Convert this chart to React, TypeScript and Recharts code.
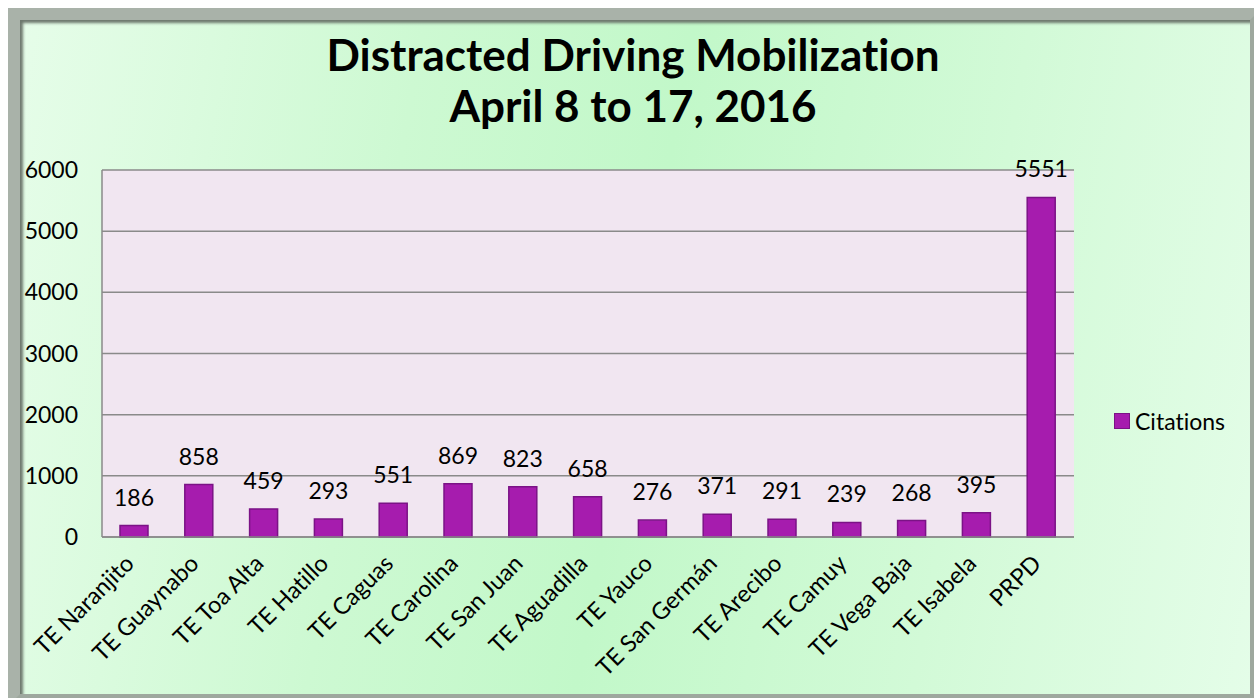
import { BarChart, Bar, XAxis, YAxis, CartesianGrid, LabelList } from "recharts";

const categories = [
  "TE Naranjito",
  "TE Guaynabo",
  "TE Toa Alta",
  "TE Hatillo",
  "TE Caguas",
  "TE Carolina",
  "TE San Juan",
  "TE Aguadilla",
  "TE Yauco",
  "TE San Germán",
  "TE Arecibo",
  "TE Camuy",
  "TE Vega Baja",
  "TE Isabela",
  "PRPD",
];
const citations = [186, 858, 459, 293, 551, 869, 823, 658, 276, 371, 291, 239, 268, 395, 5551];
const yTicks = [0, 1000, 2000, 3000, 4000, 5000, 6000];

const data = categories.map((name, i) => ({ name, Citations: citations[i] }));

const FONT = "Lato, 'Open Sans', sans-serif";

function XTick({ x, y, payload }: any) {
  return (
    <g transform={`translate(${x + 1},${y + 28})`}>
      <text
        x={0}
        y={0}
        textAnchor="end"
        transform="rotate(-45)"
        fontSize={23.5}
        fill="#000"
        fontFamily={FONT}
        style={{ fontVariantLigatures: "none" }}
      >
        {payload.value}
      </text>
    </g>
  );
}

export default function App() {
  return (
    <div style={{ position: "absolute", left: 0, top: 0, width: 1254, height: 698, overflow: "hidden", background: "#fff" }}>
      <div
        style={{
          position: "absolute",
          left: 8,
          top: 8,
          width: 1254,
          height: 698,
          boxSizing: "border-box",
          border: "12px solid #9ea89e",
          borderTopColor: "#a9b2a9",
          borderLeftColor: "#a9b2a9",
          boxShadow: "inset 3px 3px 3px #6d786d",
          background: "linear-gradient(100deg, #e6fde9 0%, #cdf9d2 30%, #c2f8c9 50%, #d2fad7 75%, #e4fde8 100%)",
        }}
      />
      <div
        style={{
          position: "absolute",
          left: 0,
          top: 29,
          width: 1266,
          textAlign: "center",
          fontFamily: FONT,
          fontWeight: 700,
          fontSize: 44,
          lineHeight: "51px",
          color: "#000",
          fontVariantLigatures: "none",
        }}
      >
        Distracted Driving Mobilization
        <br />
        April 8 to 17, 2016
      </div>
      <div style={{ position: "absolute", left: 0, top: 0 }}>
        <BarChart width={1254} height={698} data={data} margin={{ top: 170, right: 180, left: 0, bottom: 0 }}>
          <CartesianGrid vertical={false} stroke="#8a8a8a" strokeWidth={1.5} fill="#f1e6f1" fillOpacity={1} />
          <XAxis
            dataKey="name"
            height={161}
            interval={0}
            tick={<XTick />}
            tickLine={false}
            tickSize={0}
            tickMargin={0}
            axisLine={{ stroke: "#8a8a8a", strokeWidth: 1.5 }}
          />
          <YAxis
            width={102}
            domain={[0, 6000]}
            ticks={yTicks}
            tickLine={false}
            tickSize={0}
            tickMargin={24}
            axisLine={{ stroke: "#8a8a8a", strokeWidth: 1.5 }}
            tick={{ fontSize: 23, fill: "#000", fontFamily: FONT }}
          />
          <Bar dataKey="Citations" barSize={28} fill="#a61cae" stroke="#7b1386" strokeWidth={1.5} isAnimationActive={false}>
            <LabelList dataKey="Citations" position="top" offset={20} fontSize={23} fill="#000" fontFamily={FONT} />
          </Bar>
        </BarChart>
      </div>
      <div
        style={{
          position: "absolute",
          left: 1114,
          top: 407,
          display: "flex",
          alignItems: "center",
          fontFamily: FONT,
          fontSize: 23,
          color: "#000",
          fontVariantLigatures: "none",
        }}
      >
        <span
          style={{
            display: "inline-block",
            width: 14,
            height: 14,
            background: "#a61cae",
            border: "1.5px solid #7b1386",
            marginRight: 5,
          }}
        />
        Citations
      </div>
    </div>
  );
}
